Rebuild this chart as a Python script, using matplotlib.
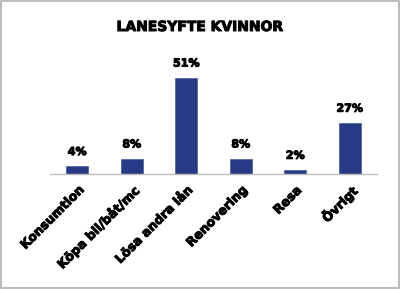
import numpy as np
import matplotlib
matplotlib.use('Agg')
import matplotlib.pyplot as plt
import matplotlib.patheffects as pe

categories = ['Konsumtion', 'Köpa bil/båt/mc', 'Lösa andra lån',
              'Renovering', 'Resa', 'Övrigt']
values = [4, 8, 51, 8, 2, 27]
title = 'LANESYFTE KVINNOR'

# slightly thicker strokes so the text looks like the heavy font in the original
heavy = [pe.withStroke(linewidth=0.7, foreground='black')]

fig = plt.figure(figsize=(4.0, 2.89), dpi=100)
# axes placed so the baseline sits where the reference has it
ax = fig.add_axes([50 / 400, (289 - 174) / 289, 327 / 400, 113 / 289])

x = np.arange(len(categories))
ax.bar(x, values, width=0.4, color='#273a85', edgecolor='#4a5aa0', linewidth=0.5)

for xi, v in zip(x, values):
    ax.text(xi, v + 5, '{}%'.format(v), ha='center', va='bottom',
            fontsize=8, fontweight='heavy', color='black', path_effects=heavy)

ax.set_xlim(-0.5, len(categories) - 0.5)
ax.set_ylim(0, 60)
ax.set_yticks([])
ax.set_xticks(x)
ax.set_xticklabels(categories, rotation=45, ha='right', rotation_mode='anchor',
                   fontsize=9, fontweight='heavy')
for lbl in ax.get_xticklabels():
    lbl.set_path_effects(heavy)
ax.tick_params(axis='x', length=0, pad=7)
for side in ['top', 'right', 'left']:
    ax.spines[side].set_visible(False)
ax.spines['bottom'].set_color('#bfbfbf')
ax.spines['bottom'].set_linewidth(1.0)

fig.text(0.5, 1 - 27 / 289, title, ha='center', va='center',
         fontsize=10, fontweight='heavy', path_effects=heavy)

# thin grey frame around the whole picture
fig.patches.append(plt.Rectangle((0.002, 0.003), 0.995, 0.993, transform=fig.transFigure,
                                 fill=False, edgecolor='#b0b0b0', linewidth=1.2))

fig.savefig('out.png', dpi=100)
